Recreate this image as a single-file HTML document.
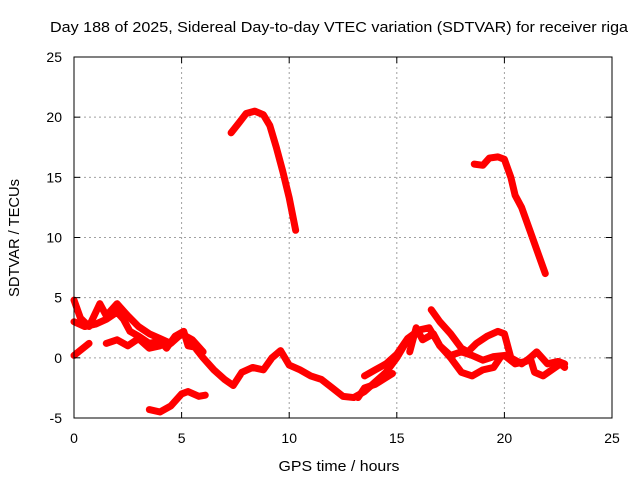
<!DOCTYPE html>
<html><head><meta charset="utf-8"><style>
body{margin:0;background:#fff}
svg{display:block;font-family:"Liberation Sans",sans-serif}
</style></head><body>
<svg id="chart" width="640" height="480">
<rect width="640" height="480" fill="#fff"/>
<text x="339" y="32" font-size="15" text-anchor="middle" textLength="578" lengthAdjust="spacingAndGlyphs">Day 188 of 2025, Sidereal Day-to-day VTEC variation (SDTVAR) for receiver riga</text>
<g id="grid"></g>
<g id="series"></g>
<g id="axes"></g>
<text x="339" y="471" font-size="15" text-anchor="middle" textLength="121" lengthAdjust="spacingAndGlyphs">GPS time / hours</text>
<text transform="translate(19,238) rotate(-90)" font-size="15" text-anchor="middle" textLength="118" lengthAdjust="spacingAndGlyphs">SDTVAR / TECUs</text>
</svg>
<script>
const xTicks=[0,5,10,15,20,25];
const yTicks=[-5,0,5,10,15,20,25];
const trackPeak1=[[7.3,18.7],[7.7,19.6],[8.0,20.3],[8.4,20.5],[8.8,20.2],[9.1,19.3],[9.4,17.5],[9.7,15.5],[10.0,13.3],[10.3,10.6]];
const trackPeak2=[[18.6,16.1],[19.0,16.0],[19.3,16.6],[19.7,16.7],[20.0,16.5],[20.3,15],[20.5,13.5],[20.8,12.5],[21.2,10.5],[21.6,8.5],[21.9,7.0]];
const trackMain=[[0,3.0],[0.5,2.6],[1,2.8],[1.5,3.2],[2,3.8],[2.3,3.2],[2.6,2.2],[3,1.8],[3.5,1.2],[4,1.4],[4.3,0.8],[4.7,1.8],[5.1,2.2],[5.3,1.0],[5.6,0.9],[6,0],[6.5,-1.0],[7,-1.8],[7.4,-2.3],[7.8,-1.2],[8.3,-0.8],[8.8,-1.0],[9.2,0],[9.6,0.6],[10,-0.6],[10.5,-1.0],[11,-1.5],[11.5,-1.8],[12,-2.5],[12.5,-3.2],[13,-3.3],[13.5,-2.8],[14,-2.0],[14.5,-1.2],[15,0],[15.5,1.5],[16,2.3],[16.5,2.5],[17,1.0],[17.5,0.2],[18,0.5],[18.5,0.2],[19,-0.2],[19.5,0.1],[20,0.2],[20.5,-0.5],[21,-0.3],[21.5,0.5],[22,-0.5],[22.5,-0.3],[22.8,-0.5]];
const trackEarly=[[0,4.8],[0.3,3.3],[0.7,2.6],[1.2,4.5],[1.5,3.5],[2,4.5],[2.5,3.5],[3,2.6],[3.5,2.0],[4,1.6],[4.5,1.2],[5,2.0],[5.5,1.5],[6,0.5]];
const trackEarly2=[[1.5,1.2],[2,1.5],[2.5,1.0],[3,1.6],[3.5,0.8],[4,1.0]];
const trackStart=[[0,0.2],[0.7,1.2]];
const trackLow=[[3.5,-4.3],[4,-4.5],[4.5,-4.0],[5,-3.0],[5.3,-2.8],[5.8,-3.2],[6.1,-3.1]];
const trackRise=[[13.2,-3.3],[13.5,-2.5],[14,-2.2],[14.8,-1.3]];
const trackRise2=[[13.5,-1.5],[14,-1.0],[14.5,-0.5],[15,0.3],[15.5,1.6],[15.8,2.0]];
const trackLate1=[[15.6,0.5],[15.9,2.5],[16.2,1.5],[16.7,2.0],[17,1.0],[17.5,0],[18,-1.2],[18.5,-1.5],[19,-1.0],[19.5,-0.8],[19.8,0]];
const trackLate2=[[16.6,4.0],[17,3.0],[17.5,2.0],[18,0.8],[18.3,0.5],[18.7,1.2],[19.2,1.8],[19.7,2.2],[20,2.0],[20.3,0],[20.8,-0.5],[21.2,0],[21.4,-1.2],[21.8,-1.5],[22.2,-1.0],[22.6,-0.5],[22.8,-0.8]];
const tracks=[trackPeak1,trackPeak2,trackMain,trackEarly,trackEarly2,trackStart,trackLow,trackRise,trackRise2,trackLate1,trackLate2];

const X0=74,X1=612,Y0=418,Y1=57;
const X=t=>X0+(t-0)/25*(X1-X0);
const Y=v=>Y0-(v+5)/30*(Y0-Y1);
const NS='http://www.w3.org/2000/svg';
function mk(tag,parent){const e=document.createElementNS(NS,tag);parent.appendChild(e);return e;}
const grid=document.getElementById('grid'),axes=document.getElementById('axes'),ser=document.getElementById('series');
xTicks.forEach(t=>{
  if(t>0&&t<25){const l=mk('line',grid);l.setAttribute('x1',X(t));l.setAttribute('x2',X(t));l.setAttribute('y1',Y1);l.setAttribute('y2',Y0);l.setAttribute('stroke','#a0a0a0');l.setAttribute('stroke-dasharray','2,3');
  
  }
  [[Y0,Y0-6],[Y1,Y1+6]].forEach(p=>{const k=mk('line',axes);k.setAttribute('x1',X(t));k.setAttribute('x2',X(t));k.setAttribute('y1',p[0]);k.setAttribute('y2',p[1]);k.setAttribute('stroke','#000');
  
  });
  const tx=mk('text',axes);tx.setAttribute('x',X(t));tx.setAttribute('y',Y0+25);tx.setAttribute('font-size','14');tx.setAttribute('text-anchor','middle');tx.textContent=t;
  
  
});
yTicks.forEach(v=>{
  if(v>-5&&v<25){const l=mk('line',grid);l.setAttribute('x1',X0);l.setAttribute('x2',X1);l.setAttribute('y1',Y(v));l.setAttribute('y2',Y(v));l.setAttribute('stroke','#a0a0a0');l.setAttribute('stroke-dasharray','2,3');
  
  }
  [[X0,X0+6],[X1,X1-6]].forEach(p=>{const k=mk('line',axes);k.setAttribute('x1',p[0]);k.setAttribute('x2',p[1]);k.setAttribute('y1',Y(v));k.setAttribute('y2',Y(v));k.setAttribute('stroke','#000');
  
  });
  const tx=mk('text',axes);tx.setAttribute('x',X0-12);tx.setAttribute('y',Y(v)+5);tx.setAttribute('font-size','14');tx.setAttribute('text-anchor','end');tx.textContent=v;
  
  
});
const fr=mk('rect',axes);fr.setAttribute('x',X0);fr.setAttribute('y',Y1);fr.setAttribute('width',X1-X0);fr.setAttribute('height',Y0-Y1);fr.setAttribute('fill','none');fr.setAttribute('stroke','#000');


tracks.forEach(tr=>{
  const p=mk('polyline',ser);
  p.setAttribute('points',tr.map(d=>X(d[0])+','+Y(d[1])).join(' '));
  p.setAttribute('fill','none');p.setAttribute('stroke','#ff0000');p.setAttribute('stroke-width','7');p.setAttribute('stroke-linejoin','round');p.setAttribute('stroke-linecap','round');
  
  
});
</script>
</body></html>
